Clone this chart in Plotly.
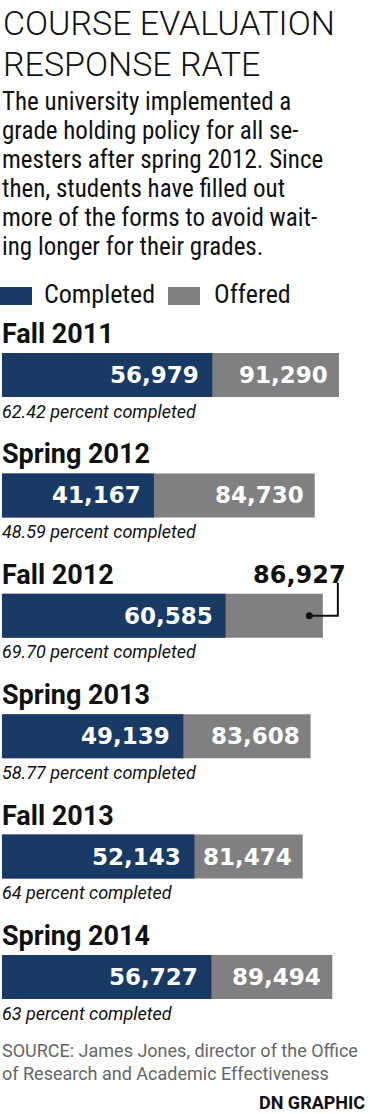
import plotly.graph_objects as go

semesters = ["Fall 2011", "Spring 2012", "Fall 2012", "Spring 2013", "Fall 2013", "Spring 2014"]
completed = [56979, 41167, 60585, 49139, 52143, 56727]
offered = [91290, 84730, 86927, 83608, 81474, 89494]
pct_notes = ["62.42 percent completed", "48.59 percent completed", "69.70 percent completed",
             "58.77 percent completed", "64 percent completed", "63 percent completed"]
callout_semester = "Fall 2012"

title_lines = ["COURSE EVALUATION", "RESPONSE RATE"]
subtitle_lines = ["The university implemented a", "grade holding policy for all se-",
                  "mesters after spring 2012. Since", "then, students have filled out",
                  "more of the forms to avoid wait-", "ing longer for their grades."]
source_lines = ["SOURCE: James Jones, director of the Office",
                "of Research and Academic Effectiveness"]
credit = "DN GRAPHIC"

W, H = 370, 1114
NAVY = "#183a64"
GRAY = "#808082"
NARROW = "Liberation Sans Narrow, Roboto Condensed, DejaVu Sans Condensed, Roboto"
WIDE = "DejaVu Sans"
BOLD = "Roboto"

px_per_unit = 0.003691
x_range = [-2 / px_per_unit, (W - 2) / px_per_unit]
cat_step = 120.4
top_val = -375 / cat_step
y_range = [top_val + H / cat_step, top_val]


def py(p):
    return 1 - p / H


def px(p):
    return p / W


fig = go.Figure()
fig.add_trace(go.Bar(y=semesters, x=offered, orientation="h", marker=dict(color=GRAY, line=dict(width=0)),
                     width=44 / cat_step, name="Offered", hoverinfo="x+y"))
fig.add_trace(go.Bar(y=semesters, x=completed, orientation="h", marker=dict(color=NAVY, line=dict(width=0)),
                     width=44 / cat_step, name="Completed", hoverinfo="x+y"))

ann = []
for i, t in enumerate(title_lines):
    ann.append(dict(text=t, xref="paper", yref="paper", x=px(1.5), y=py(23.5 + 40 * i), xanchor="left",
                    yanchor="middle", showarrow=False, borderpad=0,
                    font=dict(family="Roboto", size=34, color="#111111", weight=300)))
for i, t in enumerate(subtitle_lines):
    ann.append(dict(text=t, xref="paper", yref="paper", x=px(1), y=py(102 + 29 * i), xanchor="left",
                    yanchor="middle", showarrow=False, borderpad=0,
                    font=dict(family=NARROW, size=25, color="#111111")))
shapes = []
for label, col, x0, tx in [("Completed", NAVY, 0, 43), ("Offered", GRAY, 168, 213)]:
    shapes.append(dict(type="rect", xref="paper", yref="paper", x0=px(x0), x1=px(x0 + 32),
                       y0=py(305), y1=py(287), fillcolor=col, line=dict(width=0)))
    ann.append(dict(text=label, xref="paper", yref="paper", x=px(tx), y=py(294), xanchor="left",
                    yanchor="middle", showarrow=False, borderpad=0,
                    font=dict(family=NARROW, size=26, color="#111111")))

for s, c, o, note in zip(semesters, completed, offered, pct_notes):
    ann.append(dict(text=s, xref="paper", yref="y", x=px(1), y=s, yshift=41, xanchor="left",
                    yanchor="middle", showarrow=False, borderpad=0,
                    font=dict(family=BOLD, size=27, color="#111111", weight="bold")))
    ann.append(dict(text=note, xref="paper", yref="y", x=px(1), y=s, yshift=-36, xanchor="left",
                    yanchor="middle", showarrow=False, borderpad=0,
                    font=dict(family="Roboto", size=18, color="#111111", style="italic")))
    ann.append(dict(text=f"{c:,}", xref="x", yref="y", x=c, y=s, xshift=-12, xanchor="right",
                    yanchor="middle", showarrow=False, borderpad=0,
                    font=dict(family=WIDE, size=23, color="white", weight="bold")))
    if s == callout_semester:
        ann.append(dict(text=f"{o:,}", xref="x", yref="y", x=o, y=s, xshift=24, yshift=41,
                        xanchor="right", yanchor="middle", showarrow=False, borderpad=0,
                        font=dict(family=WIDE, size=24, color="#111111", weight="bold")))
        shapes.append(dict(type="path", xref="x", yref="y", xsizemode="pixel", ysizemode="pixel",
                           xanchor=o, yanchor=s, path="M 15 33 L 15 0 L -13 0",
                           line=dict(color="#111111", width=2)))
        shapes.append(dict(type="circle", xref="x", yref="y", xsizemode="pixel", ysizemode="pixel",
                           xanchor=o, yanchor=s, x0=-17, x1=-10, y0=-3.5, y1=3.5,
                           fillcolor="#111111", line=dict(width=0)))
    else:
        ann.append(dict(text=f"{o:,}", xref="x", yref="y", x=o, y=s, xshift=-10, xanchor="right",
                        yanchor="middle", showarrow=False, borderpad=0,
                        font=dict(family=WIDE, size=23, color="white", weight="bold")))

for i, t in enumerate(source_lines):
    ann.append(dict(text=t, xref="paper", yref="paper", x=px(1), y=py(1050 + 23 * i), xanchor="left",
                    yanchor="middle", showarrow=False, borderpad=0,
                    font=dict(family="Roboto", size=18, color="#666666")))
ann.append(dict(text=credit, xref="paper", yref="paper", x=px(366), y=py(1102.5), xanchor="right",
                yanchor="middle", showarrow=False, borderpad=0,
                font=dict(family=BOLD, size=18, color="#111111", weight="bold")))

fig.update_layout(
    width=W, height=H, margin=dict(l=0, r=0, t=0, b=0),
    paper_bgcolor="white", plot_bgcolor="white",
    barmode="overlay", showlegend=False,
    xaxis=dict(range=x_range, visible=False, fixedrange=True),
    yaxis=dict(type="category", categoryorder="array", categoryarray=semesters,
               range=y_range, visible=False, fixedrange=True),
    annotations=ann, shapes=shapes,
)
fig.write_html("out.html", config=dict(displayModeBar=False))
